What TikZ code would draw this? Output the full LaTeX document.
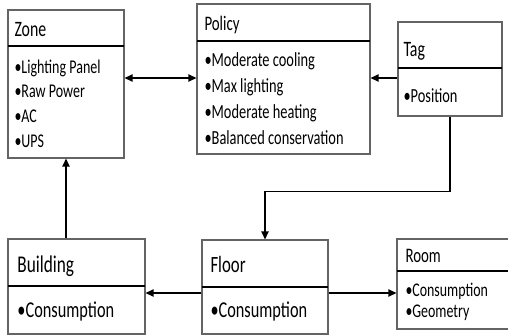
\documentclass[tikz,border=0pt]{standalone}
\usepackage{fontspec}
\setmainfont{Carlito}[FakeStretch=0.72]
\usetikzlibrary{fit,arrows.meta}

\tikzset{every picture/.style={line width=0.75pt}}
\tikzset{
  classbox/.style={draw={rgb,255:red,100;green,100;blue,100}, line width=0.9pt, inner sep=0pt},
  divider/.style={draw=black, line width=1.4pt},
  conn/.style={draw=black, line width=1.1pt},
  tip/.style={-{Triangle[length=6pt,width=5.5pt]}},
  lbl/.style={anchor=base west, inner sep=0pt, font=\fontsize{#1}{#1}\selectfont},
}

\begin{document}
\begin{tikzpicture}[x=0.75pt,y=0.75pt,yscale=-1,xscale=1]
\useasboundingbox (0,0) rectangle (508,336);

%Boxes
\node[classbox, fit={(8,10) (124,158)}] (zone) {};
\node[classbox, fit={(197,4) (370,154)}] (policy) {};
\node[classbox, fit={(398,22) (502,116)}] (tag) {};
\node[classbox, fit={(8,239) (145,334)}] (building) {};
\node[classbox, fit={(202,240) (328,334)}] (floor) {};
\node[classbox, fit={(397,239) (512,329)}] (room) {};

%Dividers
\draw[divider] (8,46) -- (124,46);
\draw[divider] (197,41) -- (370,41);
\draw[divider] (398,68) -- (502,68);
\draw[divider] (8,286) -- (145,286);
\draw[divider] (202,287) -- (328,287);
\draw[divider] (397,271) -- (512,271);

% Text Node
\node[lbl=16.5pt] (zonet) at (14,36) {Zone};
\node[lbl=14.6pt] (zone1) at (14,73) {•Lighting Panel};
\node[lbl=14.6pt] (zone2) at (14,97) {•Raw Power};
\node[lbl=14.6pt] (zone3) at (14,122) {•AC};
\node[lbl=14.6pt] (zone4) at (14,147) {•UPS};
% Text Node
\node[lbl=15.5pt] (policyt) at (204,30) {Policy};
\node[lbl=15pt] (policy1) at (204,66) {•Moderate cooling};
\node[lbl=15pt] (policy2) at (204,92) {•Max lighting};
\node[lbl=15pt] (policy3) at (204,118) {•Moderate heating};
\node[lbl=15pt] (policy4) at (204,144) {•Balanced conservation};
% Text Node
\node[lbl=16.5pt] (tagt) at (403,56) {Tag};
\node[lbl=15pt] (tag1) at (403,102) {•Position};
% Text Node
\node[lbl=18pt] (buildingt) at (17,272) {Building};
\node[lbl=17pt] (building1) at (17,317) {•Consumption};
\node[lbl=17.5pt] (floort) at (210,272) {Floor};
\node[lbl=17pt] (floor1) at (210,317) {•Consumption};
% Text Node
\node[lbl=15.5pt] (roomt) at (405,262) {Room};
\node[lbl=14.5pt] (room1) at (405,296) {•Consumption};
\node[lbl=14.5pt] (room2) at (405,317) {•Geometry};

%Connectors
\coordinate (upper) at (0,78);
\coordinate (lower) at (0,293);
\draw[conn,{Triangle[length=6pt,width=5.5pt]}-{Triangle[length=6pt,width=5.5pt]}] (zone.east |- upper) -- (policy.west |- upper);
\draw[conn,tip] (tag.west |- upper) -- (policy.east |- upper);
\draw[conn,tip] (tag.south) -- ++(0,75) -| (floor.north);
\draw[conn,tip] (building.north -| zone.south) -- (zone.south);
\draw[conn,tip] (floor.west |- lower) -- (building.east |- lower);
\draw[conn,tip] (floor.east |- lower) -- (room.west |- lower);

\end{tikzpicture}
\end{document}
